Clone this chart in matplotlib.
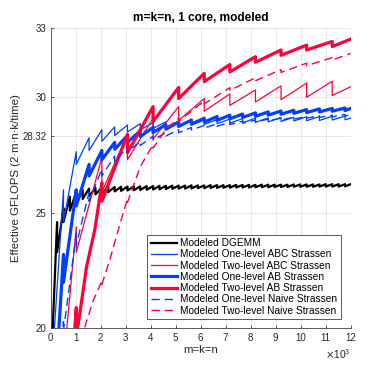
import numpy as np
import matplotlib.pyplot as plt

plt.rcParams['font.family'] = ['Liberation Sans', 'DejaVu Sans']

# matrix sizes (m=k=n) where the modeled curves jump (block boundaries)
dgemm_jumps = [256, 512, 768, 1024, 1280, 1536, 1792, 2048, 2304, 2560, 2816, 3072,
               3328, 3584, 3840, 4096, 4352, 4608, 4864, 5120, 5376, 5632, 5888, 6144,
               6400, 6656, 6912, 7168, 7424, 7680, 7936, 8192, 8448, 8704, 8960, 9216,
               9472, 9728, 9984, 10240, 10496, 10752, 11008, 11264, 11520, 11776]
one_jumps = [512, 1024, 1536, 2048, 2560, 3072, 3584, 4096, 4608, 5120, 5632, 6144,
             6656, 7168, 7680, 8192, 8704, 9216, 9728, 10240, 10752, 11264, 11776]
two_jumps = [1024, 2048, 3072, 4096, 5120, 6144, 7168, 8192, 9216, 10240, 11264]

# GFLOPS just before / just after each jump
dgemm_hi = [24.6, 25.2, 25.7, 25.9, 26.0, 26.05, 26.08, 26.1, 26.11, 26.12, 26.13, 26.14,
            26.15, 26.15, 26.16, 26.16, 26.17, 26.17, 26.18, 26.18, 26.18, 26.19, 26.19, 26.19,
            26.2, 26.2, 26.2, 26.2, 26.21, 26.21, 26.21, 26.21, 26.22, 26.22, 26.22, 26.22,
            26.22, 26.23, 26.23, 26.23, 26.23, 26.23, 26.24, 26.24, 26.24, 26.24]
dgemm_lo = [23.3, 24.6, 25.1, 25.4, 25.6, 25.72, 25.8, 25.86, 25.9, 25.93, 25.95, 25.97,
            25.98, 25.99, 26.0, 26.01, 26.02, 26.03, 26.04, 26.05, 26.05, 26.06, 26.07, 26.07,
            26.08, 26.08, 26.09, 26.09, 26.1, 26.1, 26.1, 26.11, 26.11, 26.11, 26.12, 26.12,
            26.12, 26.13, 26.13, 26.13, 26.13, 26.14, 26.14, 26.14, 26.14, 26.15]

abc1_hi = [26.0, 27.65, 28.25, 28.6, 28.72, 28.8, 28.86, 28.9, 28.94, 28.97, 29.0, 29.02,
           29.04, 29.06, 29.08, 29.1, 29.11, 29.13, 29.14, 29.16, 29.17, 29.18, 29.19]
abc1_lo = [24.6, 27.1, 27.7, 28.1, 28.35, 28.5, 28.6, 28.66, 28.72, 28.76, 28.8, 28.83,
           28.86, 28.88, 28.9, 28.92, 28.94, 28.96, 28.98, 28.99, 29.0, 29.02, 29.03]

ab1_hi = [23.2, 26.0, 27.1, 27.7, 28.05, 28.35, 28.55, 28.7, 28.82, 28.93, 29.02, 29.1,
          29.17, 29.23, 29.28, 29.33, 29.37, 29.41, 29.44, 29.47, 29.5, 29.52, 29.54]
ab1_lo = [22.0, 25.3, 26.6, 27.3, 27.75, 28.05, 28.3, 28.48, 28.62, 28.74, 28.84, 28.93,
          29.0, 29.07, 29.13, 29.18, 29.23, 29.27, 29.31, 29.34, 29.37, 29.4, 29.43]

naive1_hi = [20.3, 24.1, 25.9, 26.9, 27.45, 27.85, 28.1, 28.32, 28.48, 28.6, 28.7, 28.79,
             28.86, 28.92, 28.97, 29.02, 29.06, 29.1, 29.14, 29.17, 29.2, 29.23, 29.26]
naive1_lo = [19.9, 23.6, 25.5, 26.6, 27.2, 27.62, 27.92, 28.15, 28.33, 28.47, 28.58, 28.67,
             28.75, 28.82, 28.88, 28.93, 28.98, 29.02, 29.06, 29.1, 29.13, 29.16, 29.19]

abc2_hi = [24.4, 27.4, 28.4, 29.1, 29.6, 29.95, 30.15, 30.32, 30.5, 30.62, 30.7]
abc2_lo = [23.3, 25.9, 27.3, 28.2, 29.0, 29.4, 29.65, 29.8, 29.9, 30.0, 30.08]

ab2_x = [1024, 1440, 1770, 2048, 3072, 4096, 5120, 6144, 7168, 8192, 9216, 10240, 11264]
ab2_hi = [20.9, 22.7, 24.3, 26.3, 28.4, 29.6, 30.43, 31.04, 31.42, 31.76, 32.05, 32.26, 32.42]
ab2_lo = [19.6, 22.7, 24.3, 25.5, 27.6, 28.95, 29.95, 30.68, 31.1, 31.52, 31.82, 32.05, 32.2]

naive2_x = [1700, 2048, 2400, 2900, 3072, 3584, 4096, 4600, 5120, 6144, 7168, 8192,
            9216, 10240, 11264]
naive2_hi = [21.2, 22.05, 23.1, 25.0, 25.6, 27.0, 27.95, 28.6, 29.1, 29.85, 30.42, 30.85,
             31.2, 31.48, 31.72]
naive2_lo = [21.2, 21.9, 23.1, 25.0, 25.45, 27.0, 27.8, 28.6, 28.95, 29.72, 30.3, 30.72,
             31.08, 31.37, 31.62]


def sawtooth(start, jx, hi, lo, end):
    xs, ys = [start[0]], [start[1]]
    for x, a, b in zip(jx, hi, lo):
        xs += [x, x]
        ys += [a, b]
    xs.append(end[0])
    ys.append(end[1])
    return np.array(xs) / 1000, ys


blue = (0.0, 0.25, 1.0)
red = (1.0, 0.0, 0.22)

curves = [
    ('Modeled DGEMM', sawtooth((50, 19.2), dgemm_jumps, dgemm_hi, dgemm_lo, (12000, 26.24)),
     'k', 1.6, '-'),
    ('Modeled One-level ABC Strassen', sawtooth((100, 19.2), one_jumps, abc1_hi, abc1_lo, (12000, 29.1)),
     blue, 0.9, '-'),
    ('Modeled Two-level ABC Strassen', sawtooth((600, 19.5), two_jumps, abc2_hi, abc2_lo, (12000, 30.46)),
     red, 0.9, '-'),
    ('Modeled One-level AB Strassen', sawtooth((300, 19.5), one_jumps, ab1_hi, ab1_lo, (12000, 29.52)),
     blue, 2.3, '-'),
    ('Modeled Two-level AB Strassen', sawtooth((900, 19.0), ab2_x, ab2_hi, ab2_lo, (12000, 32.52)),
     red, 2.3, '-'),
    ('Modeled One-level Naive Strassen', sawtooth((450, 19.5), one_jumps, naive1_hi, naive1_lo, (12000, 29.25)),
     blue, 1.0, '--'),
    ('Modeled Two-level Naive Strassen', sawtooth((1200, 19.5), naive2_x, naive2_hi, naive2_lo, (12000, 31.9)),
     red, 1.0, '--'),
]

fig = plt.figure(figsize=(3.87, 3.69), dpi=100)
ax = fig.add_axes([0.131, 0.110, 0.775, 0.814])

for label, (x, y), col, lw, ls in curves:
    line, = ax.plot(x, y, color=col, lw=lw, ls=ls, label=label)
    if ls == '--':
        line.set_dashes((6, 3.5))

ax.set_xlim(0, 12)
ax.set_ylim(20, 33)
ax.set_xticks(range(0, 13))
ax.set_yticks([20, 25, 28.32, 30, 33])
ax.set_yticklabels(['20', '25', '28.32', '30', '33'])
ax.grid(True, color='#e4e4e4', lw=0.6)
ax.set_axisbelow(True)
for s in ['top', 'right']:
    ax.spines[s].set_visible(False)
for s in ['left', 'bottom']:
    ax.spines[s].set_color('#404040')
    ax.spines[s].set_linewidth(0.6)
ax.tick_params(direction='in', length=2.5, width=0.6, colors='#404040',
               labelsize=7, labelcolor='#262626', pad=3)

ax.set_title('m=k=n, 1 core, modeled', fontsize=8.6, fontweight='bold', pad=5)
ax.set_xlabel('m=k=n', fontsize=8.2, color='#262626', labelpad=2)
ax.set_ylabel('Effective GFLOPS (2\u00b7m\u00b7n\u00b7k/time)', fontsize=8.2,
              color='#262626', labelpad=1)
ax.text(1.0, -0.085, r'$\times\mathregular{10^{3}}$', transform=ax.transAxes,
        ha='right', va='center', fontsize=7.3, color='#262626')

leg = ax.legend(loc='lower right', bbox_to_anchor=(0.968, 0.031), fontsize=7.3,
                fancybox=False, edgecolor='#404040', framealpha=1,
                borderpad=0.35, handlelength=2.6, handletextpad=0.3,
                labelspacing=0.12, borderaxespad=0)
leg.get_frame().set_linewidth(0.6)

fig.savefig('out.png', dpi=100)
